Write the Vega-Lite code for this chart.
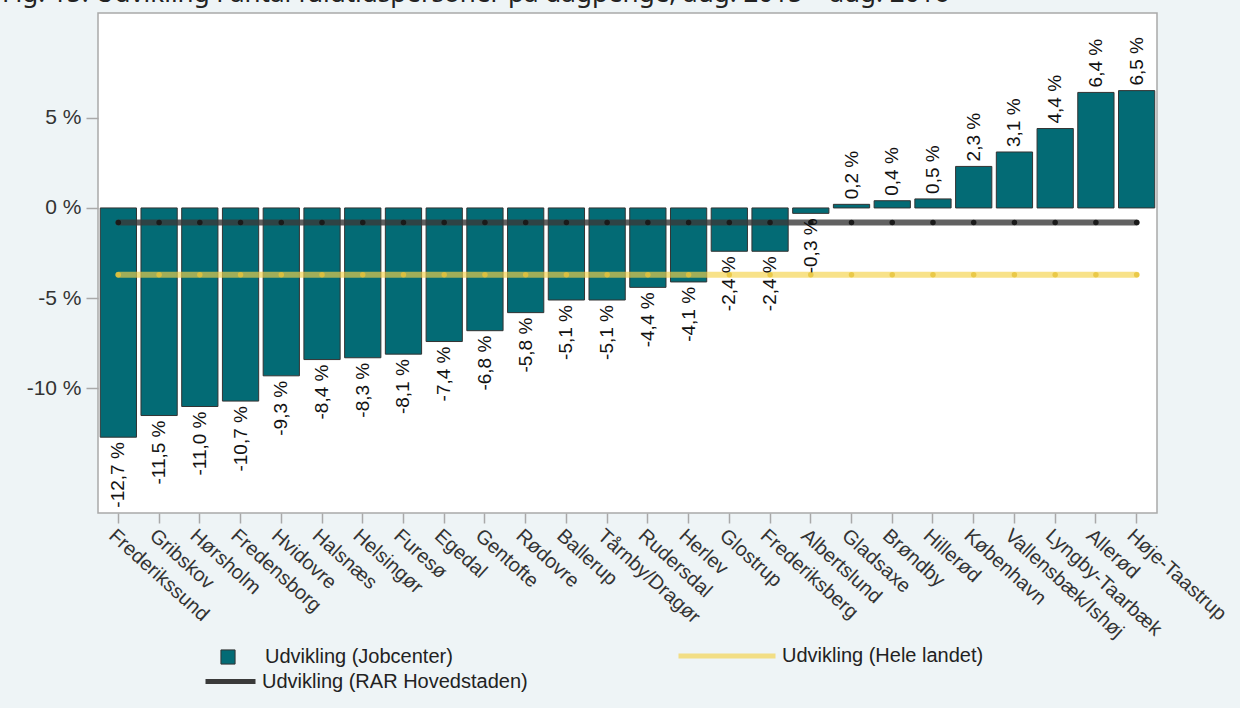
{
  "$schema": "https://vega.github.io/schema/vega-lite/v6.json",
  "width": 1059,
  "height": 500,
  "autosize": {"type": "none"},
  "padding": {"left": 98, "top": 13, "right": 83, "bottom": 195},
  "background": "#EEF4F6",
  "title": {
    "text": "Fig. 15. Udvikling i antal fuldtidspersoner på dagpenge, aug. 2015 – aug. 2016",
    "anchor": "start",
    "frame": "group",
    "dx": -96,
    "offset": 6,
    "fontSize": 26,
    "font": "Noto Sans",
    "fontWeight": "normal",
    "color": "#222"
  },
  "config": {
    "font": "Liberation Sans",
    "view": {"fill": "white", "stroke": "#A9A9A9", "strokeWidth": 1.5}
  },
  "data": {
    "values": [
      {"k": "Frederikssund", "v": -12.7, "label": "-12,7 %", "rar": -0.8, "land": -3.7},
      {"k": "Gribskov", "v": -11.5, "label": "-11,5 %", "rar": -0.8, "land": -3.7},
      {"k": "Hørsholm", "v": -11.0, "label": "-11,0 %", "rar": -0.8, "land": -3.7},
      {"k": "Fredensborg", "v": -10.7, "label": "-10,7 %", "rar": -0.8, "land": -3.7},
      {"k": "Hvidovre", "v": -9.3, "label": "-9,3 %", "rar": -0.8, "land": -3.7},
      {"k": "Halsnæs", "v": -8.4, "label": "-8,4 %", "rar": -0.8, "land": -3.7},
      {"k": "Helsingør", "v": -8.3, "label": "-8,3 %", "rar": -0.8, "land": -3.7},
      {"k": "Furesø", "v": -8.1, "label": "-8,1 %", "rar": -0.8, "land": -3.7},
      {"k": "Egedal", "v": -7.4, "label": "-7,4 %", "rar": -0.8, "land": -3.7},
      {"k": "Gentofte", "v": -6.8, "label": "-6,8 %", "rar": -0.8, "land": -3.7},
      {"k": "Rødovre", "v": -5.8, "label": "-5,8 %", "rar": -0.8, "land": -3.7},
      {"k": "Ballerup", "v": -5.1, "label": "-5,1 %", "rar": -0.8, "land": -3.7},
      {"k": "Tårnby/Dragør", "v": -5.1, "label": "-5,1 %", "rar": -0.8, "land": -3.7},
      {"k": "Rudersdal", "v": -4.4, "label": "-4,4 %", "rar": -0.8, "land": -3.7},
      {"k": "Herlev", "v": -4.1, "label": "-4,1 %", "rar": -0.8, "land": -3.7},
      {"k": "Glostrup", "v": -2.4, "label": "-2,4 %", "rar": -0.8, "land": -3.7},
      {"k": "Frederiksberg", "v": -2.4, "label": "-2,4 %", "rar": -0.8, "land": -3.7},
      {"k": "Albertslund", "v": -0.3, "label": "-0,3 %", "rar": -0.8, "land": -3.7},
      {"k": "Gladsaxe", "v": 0.2, "label": "0,2 %", "rar": -0.8, "land": -3.7},
      {"k": "Brøndby", "v": 0.4, "label": "0,4 %", "rar": -0.8, "land": -3.7},
      {"k": "Hillerød", "v": 0.5, "label": "0,5 %", "rar": -0.8, "land": -3.7},
      {"k": "København", "v": 2.3, "label": "2,3 %", "rar": -0.8, "land": -3.7},
      {"k": "Vallensbæk/Ishøj", "v": 3.1, "label": "3,1 %", "rar": -0.8, "land": -3.7},
      {"k": "Lyngby-Taarbæk", "v": 4.4, "label": "4,4 %", "rar": -0.8, "land": -3.7},
      {"k": "Allerød", "v": 6.4, "label": "6,4 %", "rar": -0.8, "land": -3.7},
      {"k": "Høje-Taastrup", "v": 6.5, "label": "6,5 %", "rar": -0.8, "land": -3.7}
    ]
  },
  "encoding": {
    "x": {
      "field": "k",
      "type": "nominal",
      "sort": null,
      "scale": {"paddingInner": 0.11, "paddingOuter": 0.055},
      "axis": {
        "title": null,
        "domain": false,
        "labelAngle": 42,
        "labelAlign": "left",
        "labelBaseline": "top",
        "labelFontSize": 20,
        "labelColor": "#333",
        "labelPadding": 2,
        "labelLimit": 0,
        "tickColor": "#A9A9A9",
        "tickSize": 10,
        "tickWidth": 1.5
      }
    }
  },
  "layer": [
    {
      "mark": {"type": "bar", "stroke": "#333", "strokeWidth": 1},
      "encoding": {
        "y": {
          "field": "v",
          "type": "quantitative",
          "scale": {"domain": [-16.9, 10.8], "nice": false, "zero": false},
          "axis": {
            "title": null,
            "values": [-10, -5, 0, 5],
            "labelExpr": "datum.value + ' %'",
            "labelFontSize": 21,
            "labelColor": "#333",
            "labelPadding": 5,
            "grid": false,
            "domain": false,
            "tickColor": "#A9A9A9",
            "tickSize": 12,
            "tickWidth": 1.5
          }
        },
        "y2": {"datum": 0},
        "color": {
          "datum": "Udvikling (Jobcenter)",
          "scale": {"range": ["#036B75"]},
          "legend": {
            "title": null,
            "orient": "none",
            "legendX": 120,
            "legendY": 634,
            "symbolType": "square",
            "symbolSize": 200,
            "symbolStrokeColor": "#333",
            "symbolStrokeWidth": 1,
            "labelFontSize": 20,
            "labelColor": "#222",
            "labelOffset": 27,
            "labelLimit": 0
          }
        }
      }
    },
    {
      "mark": {"type": "line", "strokeWidth": 6, "opacity": 0.8, "strokeCap": "round"},
      "encoding": {
        "y": {"field": "rar", "type": "quantitative"},
        "color": {
          "datum": "Udvikling (RAR Hovedstaden)",
          "scale": {"range": ["#3a3a3a"]},
          "legend": {
            "title": null,
            "orient": "none",
            "legendX": 105,
            "legendY": 641,
            "symbolType": "stroke",
            "symbolSize": 2500,
            "symbolStrokeWidth": 5,
            "symbolOpacity": 1,
            "labelFontSize": 20,
            "labelColor": "#222",
            "labelOffset": 4,
            "labelLimit": 0,
            "encode": {"symbols": {"update": {"stroke": {"value": "#555555"}, "opacity": {"value": 1}}}}
          }
        }
      }
    },
    {
      "mark": {"type": "point", "filled": true, "size": 30, "color": "#1a1a1a", "opacity": 1},
      "encoding": {"y": {"field": "rar", "type": "quantitative"}}
    },
    {
      "mark": {"type": "line", "strokeWidth": 6, "opacity": 0.65, "strokeCap": "round"},
      "encoding": {
        "y": {"field": "land", "type": "quantitative"},
        "color": {
          "datum": "Udvikling (Hele landet)",
          "scale": {"range": ["#F5D34A"]},
          "legend": {
            "title": null,
            "orient": "none",
            "legendX": 578,
            "legendY": 592,
            "symbolType": "stroke",
            "symbolSize": 9409,
            "symbolStrokeWidth": 5,
            "labelFontSize": 20,
            "labelColor": "#222",
            "labelOffset": 4,
            "labelLimit": 0,
            "encode": {"symbols": {"update": {"stroke": {"value": "#F8E08E"}, "opacity": {"value": 1}}}}
          }
        }
      }
    },
    {
      "mark": {"type": "point", "filled": true, "size": 30, "color": "#E6C33A", "opacity": 0.8},
      "encoding": {"y": {"field": "land", "type": "quantitative"}}
    },
    {
      "transform": [{"filter": "datum.v < 0"}],
      "mark": {"type": "text", "angle": 270, "align": "right", "baseline": "middle", "dx": -5, "fontSize": 19, "color": "#111"},
      "encoding": {
        "y": {"field": "v", "type": "quantitative"},
        "text": {"field": "label"}
      }
    },
    {
      "transform": [{"filter": "datum.v >= 0"}],
      "mark": {"type": "text", "angle": 270, "align": "left", "baseline": "middle", "dx": 5, "fontSize": 19, "color": "#111"},
      "encoding": {
        "y": {"field": "v", "type": "quantitative"},
        "text": {"field": "label"}
      }
    }
  ],
  "resolve": {"scale": {"color": "independent"}, "legend": {"color": "independent"}}
}
